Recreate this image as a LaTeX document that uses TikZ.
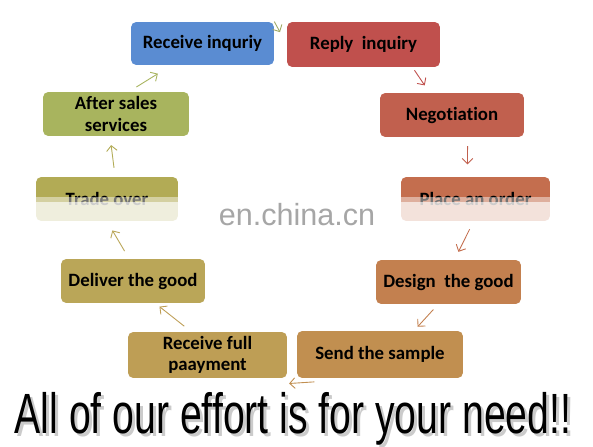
\documentclass[tikz,border=0pt]{standalone}
\usepackage{fontspec}
\setmainfont{Carlito}[Ligatures={NoCommon}]
\newfontfamily\arialfont{Liberation Sans}
\usetikzlibrary{arrows.meta}
\definecolor{inqblue}{HTML}{5A8CD2}
\definecolor{replyred}{HTML}{C0504D}
\definecolor{negored}{HTML}{C1604E}
\definecolor{orderred}{HTML}{C46E4E}
\definecolor{designbrown}{HTML}{C3804F}
\definecolor{samplebrown}{HTML}{C18F50}
\definecolor{paygold}{HTML}{BE9E55}
\definecolor{delivergold}{HTML}{BAA658}
\definecolor{tradeolive}{HTML}{B2AB55}
\definecolor{afterolive}{HTML}{A8B45E}
\begin{document}
\begin{tikzpicture}[x=0.02cm,y=-0.02cm,>={Straight Barb[length=3pt,width=6pt]},
    stage/.style={rounded corners=3pt, inner sep=2pt, minimum height=0.88cm, align=center,
      font=\bfseries\fontsize{10.7}{12.2}\selectfont},
    flow/.style={->, line width=0.5pt}]
   \useasboundingbox[fill=white] (0,0) rectangle (593,447);
   % the ten steps, clockwise from the top
   \node[stage, fill=inqblue, minimum width=2.86cm, minimum height=0.86cm] (A) at (202.5,43.5) {Receive inquriy};
   \node[stage, fill=replyred, minimum width=3.06cm, minimum height=0.9cm] (B) at (363.5,44.5) {Reply\ \ inquiry};
   \node[stage, fill=negored, minimum width=2.88cm] (C) at (452,115) {Negotiation};
   \node[stage, fill=orderred, minimum width=2.98cm] (D) at (475.5,199) {Place an order};
   \node[stage, fill=designbrown, minimum width=2.9cm] (E) at (448.5,282) {Design\ \ the good};
   \node[stage, fill=samplebrown, minimum width=3.32cm, minimum height=0.94cm] (F) at (380,354.5) {Send the sample};
   \node[stage, fill=paygold, minimum width=3.18cm, minimum height=0.92cm] (G) at (207.5,355) {Receive full\\paayment};
   \node[stage, fill=delivergold, minimum width=2.88cm] (H) at (133,281) {Deliver the good};
   \node[stage, fill=tradeolive, minimum width=2.84cm] (I) at (107,199) {Trade over};
   \node[stage, fill=afterolive, minimum width=2.92cm] (J) at (116,114) {After sales\\services};
   % arrows
   \draw[flow, color=afterolive!80!gray, shorten >=8pt] (A.north east) to (B.west);
   \draw[flow, color=replyred, shorten <=2pt, shorten >=5pt] (B.-25) to (C.135);
   \draw[flow, color=negored, shorten <=5pt, shorten >=7pt] (C.-55) to (D.110);
   \draw[flow, color=orderred, shorten <=5pt, shorten >=5pt] (D.-95) to (E.75);
   \draw[flow, color=designbrown, shorten <=4pt, shorten >=3pt] (E.-115) to (F.35);
   \draw[flow, color=samplebrown, shorten >=1pt] ([yshift=-2pt]F.-160) to ([yshift=-3pt]G.south east);
   \draw[flow, color=paygold, shorten <=5pt, shorten >=3pt] (G.125) to (H.-45);
   \draw[flow, color=delivergold, shorten <=5pt, shorten >=6pt] (H.100) to (I.-90);
   \draw[flow, color=tradeolive, shorten <=5pt, shorten >=5pt] (I.70) to (J.-105);
   \draw[flow, color=afterolive, shorten <=5pt, shorten >=9pt] (J.60) to (A.-145);
   % faded bands and watermark
   \fill[white, opacity=0.45] (25,197) rectangle (190,202);
   \fill[white, opacity=0.8] (25,202) rectangle (190,222);
   \fill[white, opacity=0.45] (390,197) rectangle (560,202);
   \fill[white, opacity=0.8] (390,202) rectangle (560,222);
   \node[font=\arialfont\fontsize{17.4}{17.4}\selectfont, text=black!35] (W) at (297,215) {en.china.cn};
   % slogan
   \node[anchor=base, xscale=0.69, font=\arialfont\fontsize{32.3}{32.3}\selectfont, text=black!40, opacity=0.5] (S2) at (296,436) {All of our effort is for your need!!};
   \node[anchor=base, xscale=0.69, font=\arialfont\fontsize{32.3}{32.3}\selectfont] (S) at (293,433) {All of our effort is for your need!!};
 \end{tikzpicture}
\end{document}
